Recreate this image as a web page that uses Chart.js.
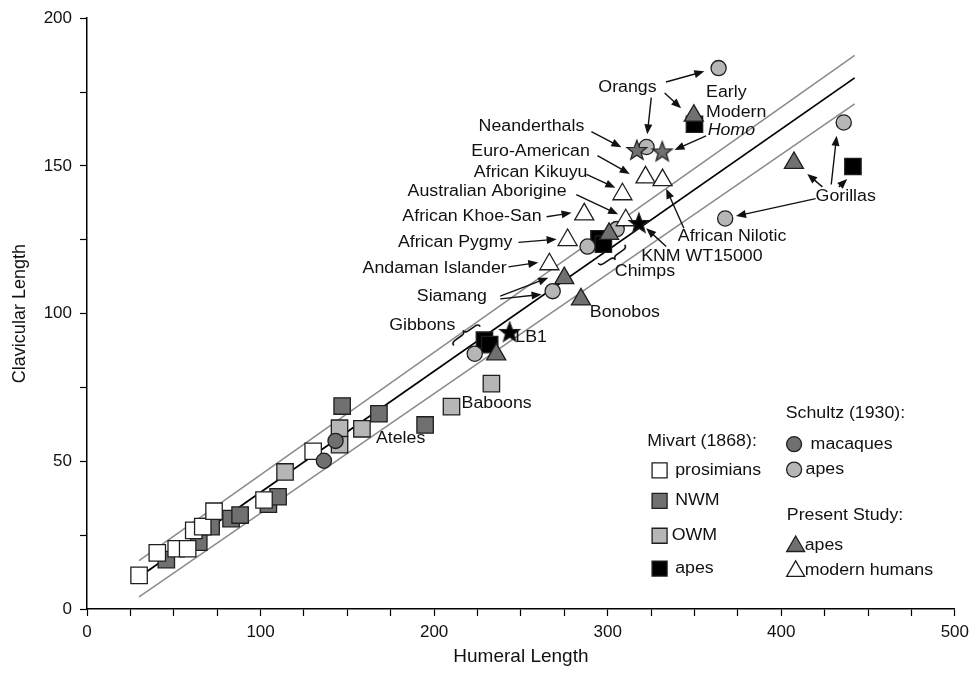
<!DOCTYPE html>
<html>
<head>
<meta charset="utf-8">
<script src="https://cdn.jsdelivr.net/npm/chart.js@4.4.1/dist/chart.umd.min.js"></script>
<style>
  html, body { margin: 0; padding: 0; background: #fff; }
  #wrap { width: 975px; height: 673px; }
</style>
</head>
<body>
<div id="wrap"><canvas id="clavicleChart" width="975" height="673"></canvas></div>
<script>
// Mivart (1868)
const prosimianHumerus = [30, 40.5, 51.4, 58, 61.5, 66.7, 73.2, 102, 130.3];
const prosimianClavicle = [11.4, 19, 20.4, 20.4, 26.6, 27.9, 33.1, 36.9, 53.4];
const nwmHumerus = [45.7, 64.4, 71.5, 83, 88.2, 104.5, 110.1, 147, 168.2, 194.8];
const nwmClavicle = [16.7, 22.6, 27.9, 30.6, 31.8, 35.5, 38, 68.7, 66.1, 62.3];
const owmHumerus = [114.1, 145.5, 145.5, 158.4, 210, 233];
const owmClavicle = [46.4, 61.2, 55.6, 61, 68.5, 76.3];
const mivartApeHumerus = [229, 232, 295, 297.5, 350, 441.3];
const mivartApeClavicle = [91, 89.5, 125.3, 123.5, 164.1, 149.8];

// Schultz (1930)
const macaqueHumerus = [136.5, 143.2];
const macaqueClavicle = [50.2, 56.9];
const schultzApeHumerus = [223.4, 268.3, 288.4, 305.2, 322.4, 363.9, 367.7, 436];
const schultzApeClavicle = [86.4, 107.6, 122.7, 128.6, 156.4, 183.1, 132.2, 164.7];

// Present study
const studyApeHumerus = [235.8, 275, 284.6, 300.8, 349.6, 407.3];
const studyApeClavicle = [86.2, 112, 104.8, 127, 167, 151];
const humanHumerus = [266.4, 276.9, 286.5, 308.5, 310.4, 321.8, 331.6];
const humanClavicle = [116.7, 124.9, 133.6, 140.4, 131.6, 146.1, 145.2];

// fossils
const fossilNames = ['Neanderthals', 'Early Modern Homo', 'KNM WT15000', 'LB1'];
const fossilHumerus = [316.8, 331.4, 318, 243.5];
const fossilClavicle = [155.4, 154.9, 130.7, 93.8];

// regression line and its bounds
const fitHumerus = [30, 442.3];
const fitClavicle = [10.8, 179.8];
const upperClavicle = [16.4, 187.4];
const lowerClavicle = [4.1, 171];

const xTicks = [0, 100, 200, 300, 400, 500];
const yTicks = [0, 50, 100, 150, 200];

const pts = (xs, ys) => xs.map((x, i) => ({ x: x, y: ys[i] }));

const DARK = '#707070';
const LIGHT = '#b6b6b6';
const EDGE = '#1e1e1e';
const FONT = '"Liberation Sans", Arial, sans-serif';

function makeStar(fill) {
  const c = document.createElement('canvas');
  c.width = 24; c.height = 24;
  const g = c.getContext('2d');
  g.beginPath();
  for (let i = 0; i < 10; i++) {
    const r = i % 2 ? 4.4 : 10.5;
    const a = -Math.PI / 2 + i * Math.PI / 5;
    g.lineTo(12 + r * Math.cos(a), 12.8 + r * Math.sin(a));
  }
  g.closePath();
  g.fillStyle = fill; g.fill();
  g.lineWidth = 1.2; g.strokeStyle = EDGE; g.stroke();
  return c;
}
const grayStar = makeStar(DARK);
const blackStar = makeStar('#000');

// text labels: [text, humeral, clavicular, align, italic]
const notes = [
  ['Orangs', 311.4, 176.6, 'center'],
  ['Early', 356.7, 174.7, 'left'],
  ['Modern', 356.7, 168.0, 'left'],
  ['Homo', 357.6, 161.8, 'left', true],
  ['Neanderthals', 286.5, 163.3, 'right'],
  ['Euro-American', 289.7, 154.9, 'right'],
  ['African Kikuyu', 288.3, 147.9, 'right'],
  ['Australian Aborigine', 276.3, 141.2, 'right'],
  ['African Khoe-San', 261.9, 132.8, 'right'],
  ['African Pygmy', 245.1, 124.1, 'right'],
  ['Andaman Islander', 241.8, 115.4, 'right'],
  ['Siamang', 230.4, 105.9, 'right'],
  ['Gibbons', 212.2, 95.9, 'right'],
  ['LB1', 246.8, 91.9, 'left'],
  ['Bonobos', 289.7, 100.3, 'left'],
  ['Chimps', 304.1, 114.3, 'left'],
  ['KNM WT15000', 319.3, 119.4, 'left'],
  ['African Nilotic', 340.4, 126.1, 'left'],
  ['Gorillas', 419.8, 139.5, 'left'],
  ['Baboons', 215.8, 69.6, 'left'],
  ['Ateles', 180.7, 57.8, 'center']
];

// arrows: from (humeral, clavicular) to (humeral, clavicular)
const arrows = [
  [333.6, 178.4, 355.7, 182.0],
  [332.8, 174.7, 342.3, 169.5],
  [325.1, 173.1, 322.8, 160.7],
  [290.6, 161.6, 307.9, 156.3],
  [356.7, 160.2, 338.5, 155.4],
  [294.1, 153.5, 312.7, 147.3],
  [287.8, 147.1, 304.4, 142.6],
  [281.9, 140.3, 306.0, 133.6],
  [264.8, 132.8, 279.2, 134.1],
  [248.6, 124.1, 270.6, 125.2],
  [242.8, 115.8, 260.0, 117.3],
  [238.1, 105.9, 265.8, 112.1],
  [238.1, 105.0, 261.9, 106.5],
  [333.7, 122.7, 322.2, 128.9],
  [343.9, 128.9, 333.7, 142.3],
  [419.8, 138.9, 373.9, 133.0],
  [423.7, 142.9, 415.0, 147.3],
  [428.8, 143.7, 431.9, 160.2],
  [433.2, 142.9, 438.0, 145.6]
];

// curly braces: start, end, side of the tip
const braces = [
  [211.3, 89.2, 226.6, 95.6, -1],
  [294.5, 117.1, 309.8, 123.3, 1]
];

// legend: [marker, humeral, clavicular, text, textHumeral]
const legendHeads = [
  ['Mivart (1868):', 322.8, 56.7],
  ['Schultz (1930):', 402.6, 66.2],
  ['Present Study:', 403.2, 31.5]
];
const legendRows = [
  ['square', '#fff', 329.9, 46.9, 'prosimians', 338.9],
  ['square', DARK, 329.9, 36.6, 'NWM', 338.9],
  ['square', LIGHT, 329.9, 24.8, 'OWM', 336.9],
  ['square', '#000', 329.9, 13.7, 'apes', 338.9],
  ['circle', DARK, 407.4, 55.8, 'macaques', 416.9],
  ['circle', LIGHT, 407.4, 47.2, 'apes', 414.0],
  ['triangle', DARK, 408.3, 21.5, 'apes', 413.5],
  ['triangle', '#fff', 408.3, 13.1, 'modern humans', 413.5]
];

function wideText(ctx, text, x, y, align, italic) {
  ctx.save();
  ctx.font = (italic ? 'italic ' : '') + '16px ' + FONT;
  ctx.translate(x, y);
  ctx.scale(1.11, 1);
  ctx.textAlign = align;
  ctx.textBaseline = 'middle';
  ctx.fillText(text, 0, 0);
  ctx.restore();
}

function drawArrow(ctx, x1, y1, x2, y2) {
  const a = Math.atan2(y2 - y1, x2 - x1);
  const head = 10, w = 4;
  ctx.beginPath();
  ctx.moveTo(x1, y1);
  ctx.lineTo(x2 - Math.cos(a) * head * 0.8, y2 - Math.sin(a) * head * 0.8);
  ctx.stroke();
  ctx.beginPath();
  ctx.moveTo(x2, y2);
  ctx.lineTo(x2 - head * Math.cos(a) + w * Math.sin(a), y2 - head * Math.sin(a) - w * Math.cos(a));
  ctx.lineTo(x2 - head * Math.cos(a) - w * Math.sin(a), y2 - head * Math.sin(a) + w * Math.cos(a));
  ctx.closePath();
  ctx.fill();
}

function drawBrace(ctx, x1, y1, x2, y2, side) {
  const L = Math.hypot(x2 - x1, y2 - y1);
  const ux = (x2 - x1) / L, uy = (y2 - y1) / L;
  const nx = -uy * side, ny = ux * side;
  const h = 7, a = 4;
  const P = (s, t) => [x1 + s * ux + t * nx, y1 + s * uy + t * ny];
  const m = L / 2;
  ctx.beginPath();
  ctx.moveTo(...P(0, 0));
  ctx.quadraticCurveTo(...P(0, h / 2), ...P(a, h / 2));
  ctx.lineTo(...P(m - a, h / 2));
  ctx.quadraticCurveTo(...P(m, h / 2), ...P(m, h));
  ctx.quadraticCurveTo(...P(m, h / 2), ...P(m + a, h / 2));
  ctx.lineTo(...P(L - a, h / 2));
  ctx.quadraticCurveTo(...P(L, h / 2), ...P(L, 0));
  ctx.stroke();
}

function drawMarker(ctx, kind, fill, x, y) {
  ctx.beginPath();
  if (kind === 'square') {
    ctx.rect(x - 7.5, y - 7.5, 15, 15);
  } else if (kind === 'circle') {
    ctx.arc(x, y, 7.5, 0, Math.PI * 2);
  } else {
    ctx.moveTo(x, y - 9.5);
    ctx.lineTo(x + 9, y + 6);
    ctx.lineTo(x - 9, y + 6);
    ctx.closePath();
  }
  ctx.fillStyle = fill;
  ctx.fill();
  ctx.lineWidth = 1.3;
  ctx.strokeStyle = EDGE;
  ctx.stroke();
}

const notesPlugin = {
  id: 'notes',
  afterDatasetsDraw(chart) {
    const ctx = chart.ctx;
    const sx = chart.scales.x, sy = chart.scales.y;
    const X = v => sx.getPixelForValue(v);
    const Y = v => sy.getPixelForValue(v);
    ctx.save();
    ctx.fillStyle = '#111';
    ctx.strokeStyle = '#111';
    ctx.lineWidth = 1.4;
    arrows.forEach(a => drawArrow(ctx, X(a[0]), Y(a[1]), X(a[2]), Y(a[3])));
    ctx.lineWidth = 1.6;
    braces.forEach(b => drawBrace(ctx, X(b[0]), Y(b[1]), X(b[2]), Y(b[3]), b[4]));
    notes.forEach(n => wideText(ctx, n[0], X(n[1]), Y(n[2]), n[3], n[4]));
    legendHeads.forEach(h => wideText(ctx, h[0], X(h[1]), Y(h[2]), 'left'));
    legendRows.forEach(r => {
      drawMarker(ctx, r[0], r[1], X(r[2]), Y(r[3]));
      ctx.fillStyle = '#111';
      wideText(ctx, r[4], X(r[5]), Y(r[3]), 'left');
    });
    ctx.restore();
  }
};

const square = { pointStyle: 'rect', pointRadius: 11.6, borderColor: EDGE, borderWidth: 1.3 };
const circle = { pointStyle: 'circle', pointRadius: 7.6, borderColor: EDGE, borderWidth: 1.3 };
const triangle = { pointStyle: 'triangle', pointRadius: 11, borderColor: EDGE, borderWidth: 1.3 };
const boundLine = { showLine: true, pointRadius: 0, borderColor: '#8a8a8a', borderWidth: 1.5, fill: false };

new Chart(document.getElementById('clavicleChart'), {
  type: 'scatter',
  data: {
    datasets: [
      { label: 'Fossils', data: pts(fossilHumerus, fossilClavicle), order: 0,
        pointStyle: c => c.dataIndex < 2 ? grayStar : blackStar, pointRadius: 10 },
      Object.assign({ label: 'Present Study: modern humans', data: pts(humanHumerus, humanClavicle), order: 1, backgroundColor: '#fff' }, triangle),
      Object.assign({ label: 'Present Study: apes', data: pts(studyApeHumerus, studyApeClavicle), order: 2, backgroundColor: DARK }, triangle),
      Object.assign({ label: 'Schultz (1930): apes', data: pts(schultzApeHumerus, schultzApeClavicle), order: 3, backgroundColor: LIGHT }, circle),
      Object.assign({ label: 'Schultz (1930): macaques', data: pts(macaqueHumerus, macaqueClavicle), order: 4, backgroundColor: DARK }, circle),
      Object.assign({ label: 'Mivart (1868): apes', data: pts(mivartApeHumerus, mivartApeClavicle), order: 5, backgroundColor: '#000' }, square),
      Object.assign({ label: 'Mivart (1868): prosimians', data: pts(prosimianHumerus, prosimianClavicle), order: 6, backgroundColor: '#fff' }, square),
      Object.assign({ label: 'Mivart (1868): OWM', data: pts(owmHumerus, owmClavicle), order: 7, backgroundColor: LIGHT }, square),
      Object.assign({ label: 'Mivart (1868): NWM', data: pts(nwmHumerus, nwmClavicle), order: 8, backgroundColor: DARK }, square),
      { label: 'Fit', data: pts(fitHumerus, fitClavicle), order: 9, showLine: true, pointRadius: 0, borderColor: '#000', borderWidth: 1.8 },
      Object.assign({ label: 'Upper', data: pts(fitHumerus, upperClavicle), order: 10 }, boundLine),
      Object.assign({ label: 'Lower', data: pts(fitHumerus, lowerClavicle), order: 11 }, boundLine)
    ]
  },
  options: {
    responsive: false,
    animation: false,
    devicePixelRatio: 1,
    layout: { padding: { top: 13, right: 17, left: 0, bottom: 0 } },
    plugins: { legend: { display: false }, tooltip: { enabled: false } },
    scales: {
      x: {
        type: 'linear', min: 0, max: 500,
        afterFit: s => { s.height = 64; },
        border: { color: '#000', width: 1.5 },
        grid: { display: true, drawOnChartArea: false, drawTicks: true, tickLength: 7, tickColor: '#000', tickWidth: 1.2 },
        ticks: {
          stepSize: 25, autoSkip: false, maxRotation: 0, padding: 6, color: '#111',
          font: { family: FONT, size: 17 },
          callback: v => xTicks.includes(v) ? v : ''
        },
        title: { display: true, text: 'Humeral Length', color: '#111', font: { family: FONT, size: 19 }, padding: { bottom: 5 } }
      },
      y: {
        type: 'linear', min: 0, max: 200,
        afterFit: s => { s.width = 87; },
        border: { color: '#000', width: 1.5 },
        grid: { display: true, drawOnChartArea: false, drawTicks: true, tickLength: 7, tickColor: '#000', tickWidth: 1.2 },
        ticks: {
          stepSize: 25, autoSkip: false, padding: 8, color: '#111',
          font: { family: FONT, size: 17 },
          callback: v => yTicks.includes(v) ? v : ''
        },
        title: { display: true, text: 'Clavicular Length', color: '#111', font: { family: FONT, size: 18 }, padding: { top: 9 } }
      }
    }
  },
  plugins: [notesPlugin]
});
</script>
</body>
</html>
